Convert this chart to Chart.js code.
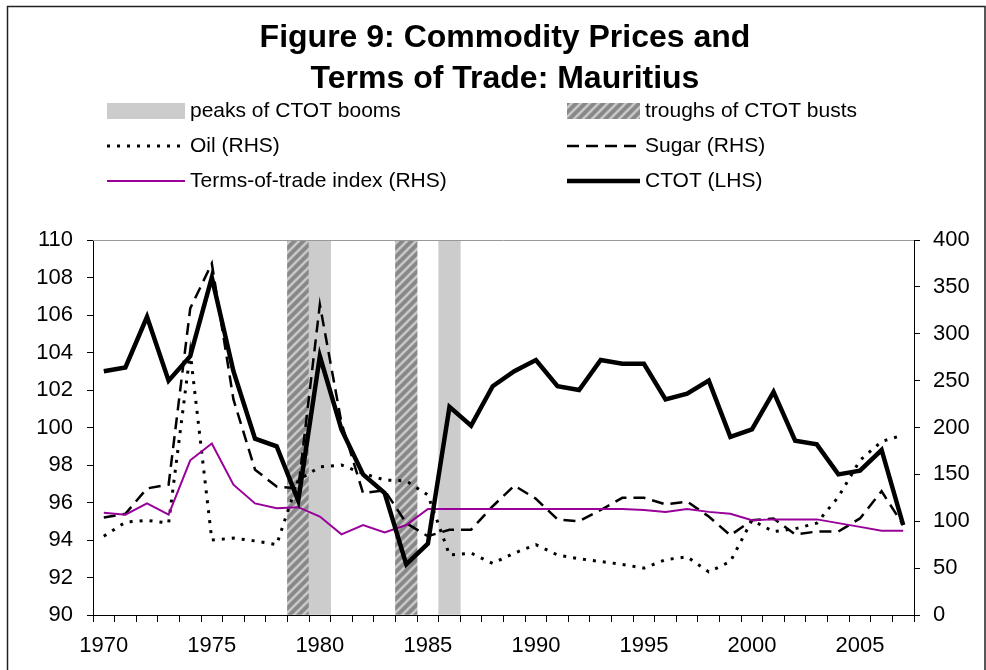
<!DOCTYPE html>
<html>
<head>
<meta charset="utf-8">
<script src="https://cdn.jsdelivr.net/npm/chart.js@4.4.1/dist/chart.umd.min.js"></script>
<style>
  html, body { margin: 0; padding: 0; background: #fff; }
  canvas { display: block; }
</style>
</head>
<body>
<canvas id="chart" width="986" height="670"></canvas>
<script>
var years = [1970, 1971, 1972, 1973, 1974, 1975, 1976, 1977, 1978, 1979,
	1980, 1981, 1982, 1983, 1984, 1985, 1986, 1987, 1988, 1989,
	1990, 1991, 1992, 1993, 1994, 1995, 1996, 1997, 1998, 1999,
	2000, 2001, 2002, 2003, 2004, 2005, 2006, 2007];

// CTOT, left axis
var ctot = [103.0, 103.2, 105.9, 102.5, 103.8, 108.0, 103.0, 99.4, 99.0, 96.1,
	103.8, 99.9, 97.5, 96.5, 92.7, 93.8, 101.1, 100.1, 102.2, 103.0,
	103.6, 102.2, 102.0, 103.6, 103.4, 103.4, 101.5, 101.8, 102.5, 99.5,
	99.9, 101.9, 99.3, 99.1, 97.5, 97.7, 98.8, 94.8];

// right axis series
var oil = [84, 99, 101, 98, 280, 80, 82, 79, 75, 144,
	158, 160, 151, 144, 143, 128, 64, 66, 55, 66,
	75, 64, 60, 57, 54, 50, 59, 62, 46, 57,
	101, 89, 92, 98, 126, 165, 185, 192];
var sugar = [104, 108, 135, 139, 327, 375, 230, 155, 137, 135,
	331, 205, 130, 133, 98, 84, 91, 91, 116, 138,
	124, 102, 100, 112, 125, 125, 118, 121, 105, 85,
	101, 103, 86, 89, 89, 103, 132, 96];
var tot = [109, 107, 119, 107, 165, 183, 139, 119, 114, 115,
	105, 86, 96, 88, 96, 113, 113, 113, 113, 113,
	113, 113, 113, 113, 113, 112, 110, 113, 110, 108,
	101, 102, 102, 102, 98, 94, 90, 90];

// shaded years
var boomYears = [1980, 1986];
var bustYears = [1979, 1984];

var leftTicks = [90, 110, 2];
var rightTicks = [0, 400, 50];

var FONT = '"Liberation Sans", Arial, sans-serif';
var PURPLE = '#990099';

function bandData(list) {
	return years.map(function(y) {
		return list.indexOf(y) >= 0 ? rightTicks[1] : null;
	});
}

function makeHatch() {
	var c = document.createElement('canvas');
	c.width = 9;
	c.height = 9;
	var g = c.getContext('2d');
	g.fillStyle = '#888888';
	g.fillRect(0, 0, 9, 9);
	g.strokeStyle = '#c8c8c8';
	g.lineWidth = 2.6;
	g.beginPath();
	g.moveTo(-2, 11); g.lineTo(11, -2);
	g.moveTo(-7, 7); g.lineTo(7, -7);
	g.moveTo(2, 16); g.lineTo(16, 2);
	g.stroke();
	return g.createPattern(c, 'repeat');
}

var hatch = makeHatch();

// title, legend and frame drawn on the canvas
var decorPlugin = {
	id: 'decor',
	beforeDraw: function(chart) {
		var ctx = chart.ctx;
		ctx.save();
		ctx.fillStyle = '#fff';
		ctx.fillRect(0, 0, chart.width, chart.height);
		ctx.restore();
	},
	afterDraw: function(chart) {
		var ctx = chart.ctx;
		var a = chart.chartArea;
		ctx.save();

		// outer frame
		ctx.strokeStyle = '#222';
		ctx.lineWidth = 1.5;
		ctx.strokeRect(7.5, 6.5, 977.5, 700);

		// top edge of plot
		ctx.strokeStyle = '#999';
		ctx.lineWidth = 1;
		ctx.beginPath();
		ctx.moveTo(a.left, a.top + 0.5);
		ctx.lineTo(a.right, a.top + 0.5);
		ctx.stroke();

		// title
		ctx.fillStyle = '#000';
		ctx.textAlign = 'center';
		ctx.textBaseline = 'alphabetic';
		ctx.font = 'bold 32px ' + FONT;
		ctx.fillText('Figure 9: Commodity Prices and', 505, 47);
		ctx.fillText('Terms of Trade: Mauritius', 505, 88);

		// legend
		ctx.font = '21px ' + FONT;
		ctx.textAlign = 'left';
		ctx.textBaseline = 'middle';
		var c1 = [107, 185, 190];
		var c2 = [567, 640, 645];
		var rows = [111, 146, 181];

		ctx.fillStyle = '#cccccc';
		ctx.fillRect(c1[0], rows[0] - 8, c1[1] - c1[0], 16);
		ctx.fillStyle = hatch;
		ctx.fillRect(c2[0], rows[0] - 8, c2[1] - c2[0], 16);

		function seg(col, y, color, width, dash) {
			ctx.strokeStyle = color;
			ctx.lineWidth = width;
			ctx.setLineDash(dash);
			ctx.beginPath();
			ctx.moveTo(col[0], y);
			ctx.lineTo(col[1], y);
			ctx.stroke();
			ctx.setLineDash([]);
		}
		seg(c1, rows[1], '#000', 3, [3, 7]);
		seg(c2, rows[1], '#000', 2.5, [12, 7]);
		seg(c1, rows[2], PURPLE, 2, []);
		seg(c2, rows[2], '#000', 4.5, []);

		ctx.fillStyle = '#000';
		ctx.fillText('peaks of CTOT booms', c1[2], rows[0]);
		ctx.fillText('troughs of CTOT busts', c2[2], rows[0]);
		ctx.fillText('Oil (RHS)', c1[2], rows[1]);
		ctx.fillText('Sugar (RHS)', c2[2], rows[1]);
		ctx.fillText('Terms-of-trade index (RHS)', c1[2], rows[2]);
		ctx.fillText('CTOT (LHS)', c2[2], rows[2]);
		ctx.restore();
	}
};

var ctx = document.getElementById('chart');
var myChart = new Chart(ctx, {
	data: {
		labels: years,
		datasets: [
			{
				type: 'line',
				label: 'CTOT (LHS)',
				data: ctot,
				yAxisID: 'y',
				borderColor: '#000',
				borderWidth: 4.5,
				pointRadius: 0,
				order: 1
			},
			{
				type: 'line',
				label: 'Terms-of-trade index (RHS)',
				data: tot,
				yAxisID: 'y1',
				borderColor: PURPLE,
				borderWidth: 2,
				pointRadius: 0,
				order: 2
			},
			{
				type: 'line',
				label: 'Sugar (RHS)',
				data: sugar,
				yAxisID: 'y1',
				borderColor: '#000',
				borderWidth: 2.5,
				borderDash: [12, 7],
				pointRadius: 0,
				order: 3
			},
			{
				type: 'line',
				label: 'Oil (RHS)',
				data: oil,
				yAxisID: 'y1',
				borderColor: '#000',
				borderWidth: 3,
				borderDash: [3, 7],
				pointRadius: 0,
				order: 4
			},
			{
				type: 'bar',
				label: 'peaks of CTOT booms',
				data: bandData(boomYears),
				yAxisID: 'y1',
				backgroundColor: '#cccccc',
				barPercentage: 1,
				categoryPercentage: 1,
				order: 10
			},
			{
				type: 'bar',
				label: 'troughs of CTOT busts',
				data: bandData(bustYears),
				yAxisID: 'y1',
				backgroundColor: hatch,
				barPercentage: 1,
				categoryPercentage: 1,
				order: 11
			}
		]
	},
	options: {
		responsive: false,
		animation: false,
		layout: { padding: { top: 240, left: 0, right: 0, bottom: 0 } },
		plugins: {
			legend: { display: false },
			title: { display: false },
			tooltip: { enabled: false }
		},
		scales: {
			x: {
				stacked: true,
				offset: true,
				grid: { offset: true, drawOnChartArea: false, tickLength: 7, color: '#000' },
				border: { color: '#000', width: 1 },
				ticks: {
					autoSkip: false,
					maxRotation: 0,
					padding: 11,
					color: '#000',
					font: { family: FONT, size: 22 },
					callback: function(v, i) {
						return years[i] % 5 === 0 ? String(years[i]) : '';
					}
				},
				afterFit: function(s) { s.height = 55; }
			},
			y: {
				position: 'left',
				min: leftTicks[0],
				max: leftTicks[1],
				grid: { drawOnChartArea: false, tickLength: 6, color: '#000' },
				border: { color: '#000', width: 1 },
				ticks: {
					stepSize: leftTicks[2],
					padding: 14,
					color: '#000',
					font: { family: FONT, size: 22 }
				},
				afterFit: function(s) { s.width = 93; }
			},
			y1: {
				position: 'right',
				min: rightTicks[0],
				max: rightTicks[1],
				grid: { drawOnChartArea: false, tickLength: 6, color: '#000' },
				border: { color: '#000', width: 1 },
				ticks: {
					stepSize: rightTicks[2],
					padding: 13,
					color: '#000',
					font: { family: FONT, size: 22 }
				},
				afterFit: function(s) { s.width = 72; }
			}
		}
	},
	plugins: [decorPlugin]
});
</script>
</body>
</html>
